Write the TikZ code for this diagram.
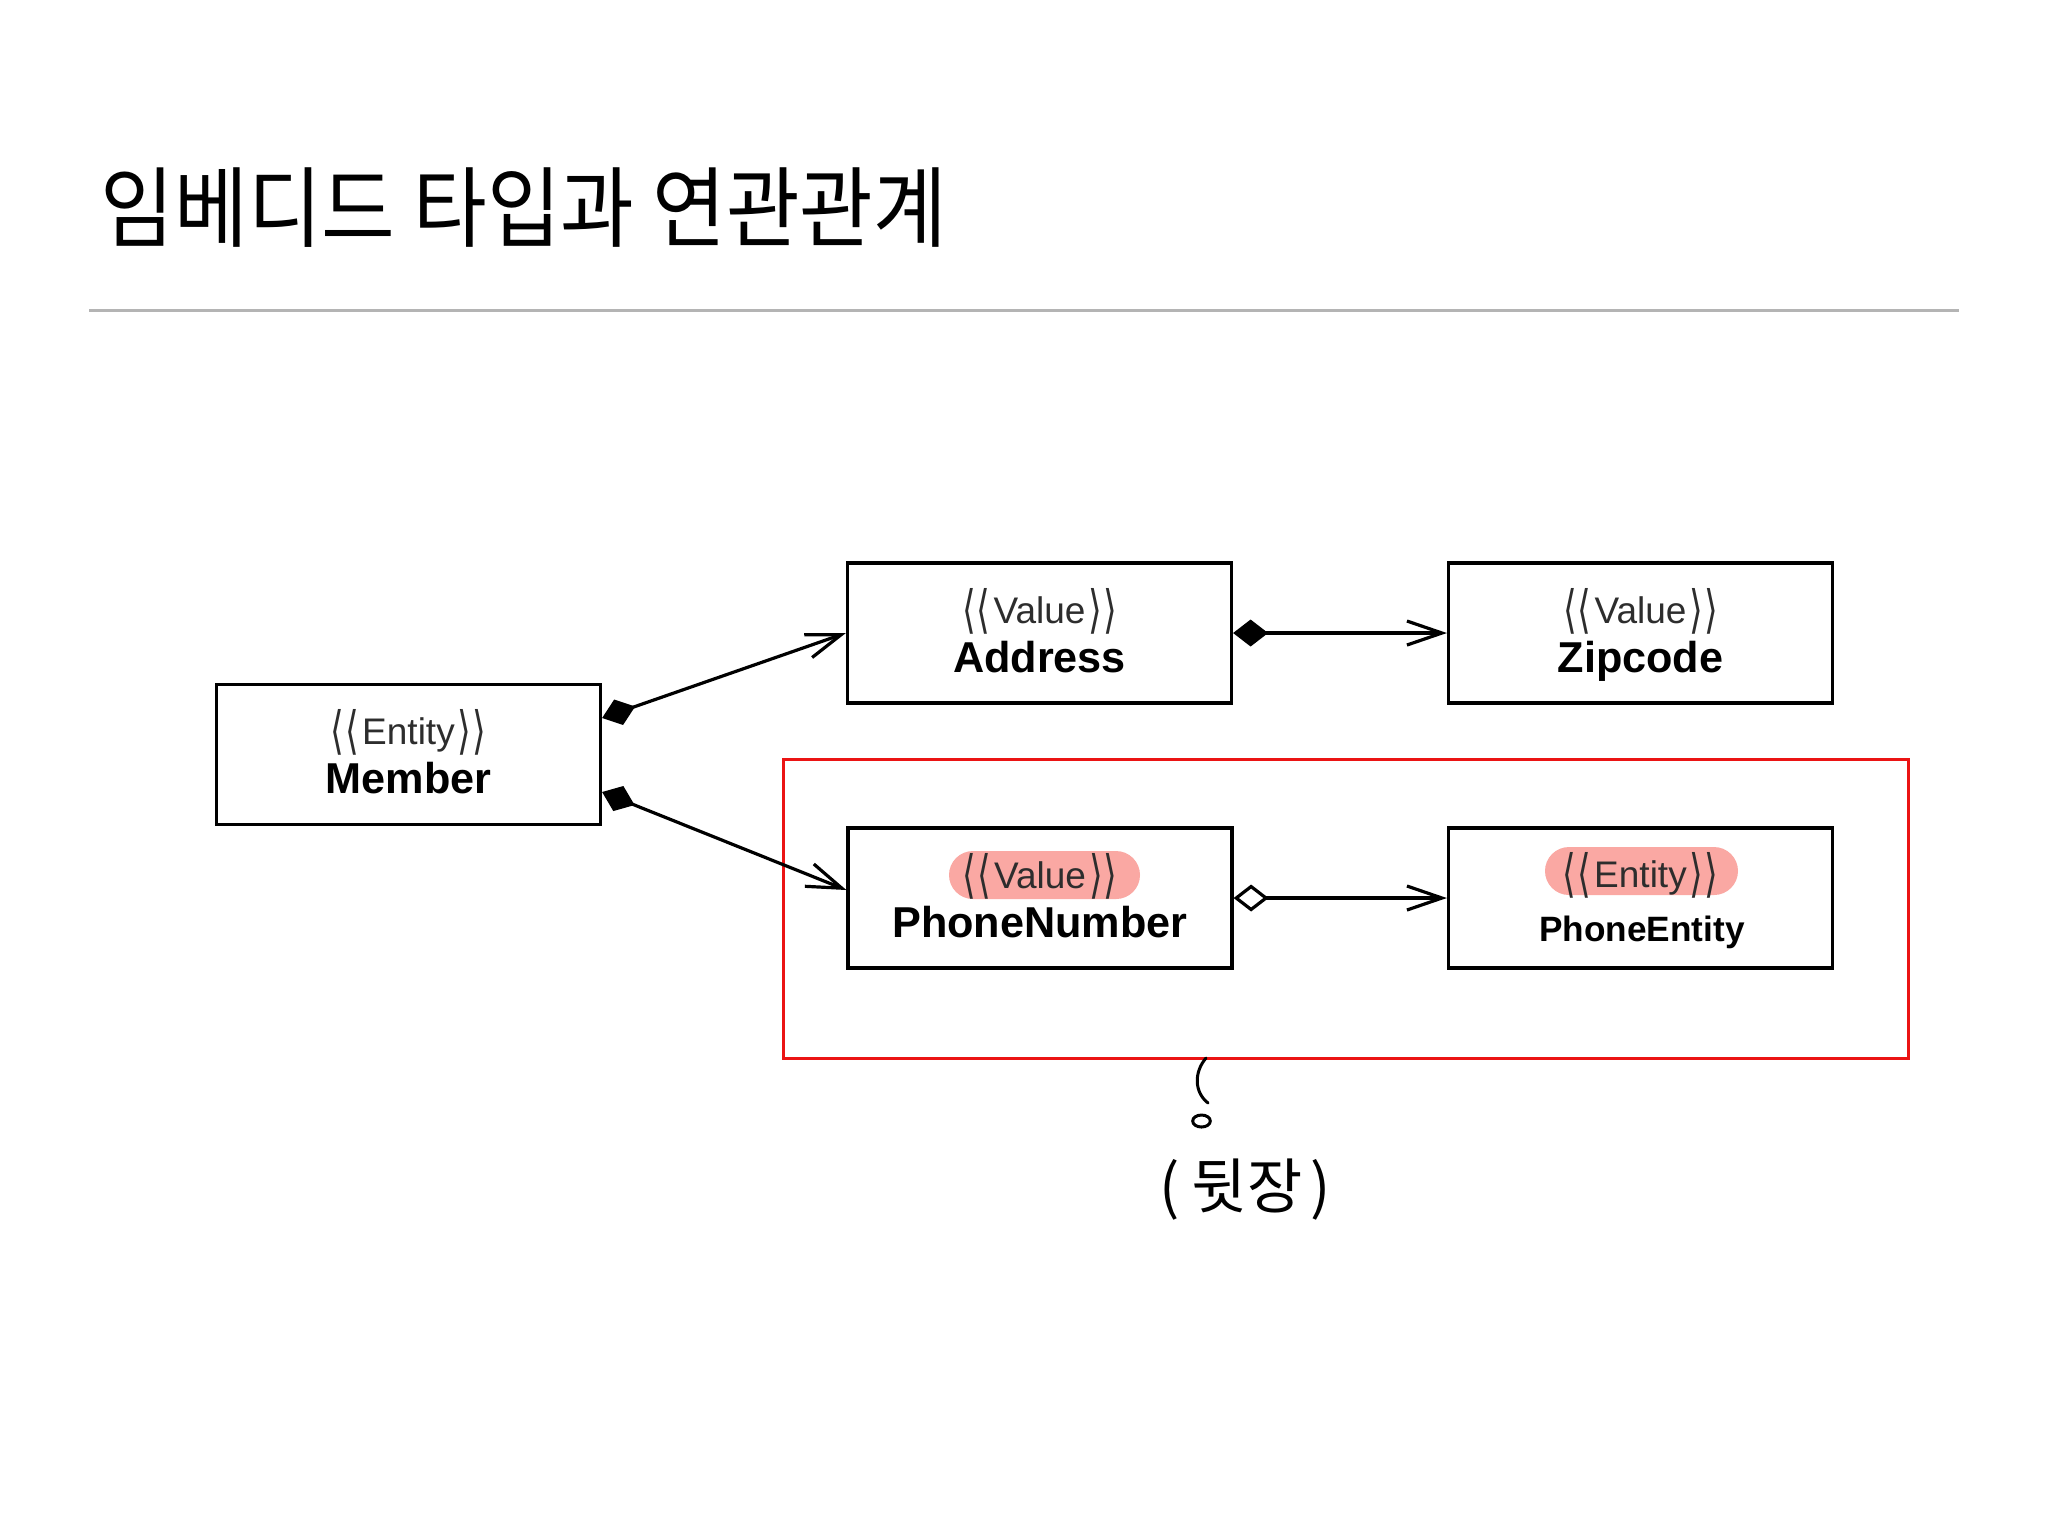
\documentclass[tikz,border=0pt]{standalone}
\usepackage{fontspec}
\setmainfont{Liberation Sans}
\newfontfamily\krfont{Noto Sans CJK KR}
\newfontfamily\dvfont{DejaVu Sans}
\usetikzlibrary{arrows.meta,calc}
\definecolor{hlpink}{RGB}{250,168,163}
\definecolor{rulegray}{RGB}{180,180,180}
\definecolor{redbox}{RGB}{235,20,20}
\definecolor{stgray}{RGB}{45,45,45}
\newcommand{\brkl}{\raisebox{-1pt}{\scalebox{0.95}[1.39]{\dvfont ⟨\kern0.2pt⟨}}}
\newcommand{\brkr}{\raisebox{-1pt}{\scalebox{0.95}[1.39]{\dvfont ⟩\kern0.2pt⟩}}}
\newcommand{\stpx}[1]{\brkl\kern0.8pt#1\kern0.8pt\brkr}
\tikzset{
  cls/.style={draw, line width=0.8pt, minimum width=96pt, minimum height=35pt, inner sep=0pt},
  stereo/.style={anchor=base, inner sep=0pt, text=stgray, font=\fontsize{9.25pt}{11pt}\selectfont},
  cname/.style={anchor=base, inner sep=0pt, font=\fontsize{10.8pt}{12pt}\selectfont\bfseries},
  cnamesmall/.style={anchor=base, inner sep=0pt, font=\fontsize{8.8pt}{10pt}\selectfont\bfseries},
  pill/.style={fill=hlpink, rounded corners=6pt, inner sep=0pt, minimum height=12pt},
  comp/.style={line width=0.8pt, {Diamond[length=8.75pt,width=6.75pt]}-{Straight Barb[length=8.75pt,width=6pt]}},
  aggr/.style={line width=0.8pt, {Diamond[open,length=8.75pt,width=6.75pt,fill=white]}-{Straight Barb[length=8.75pt,width=6pt]}},
}
\begin{document}
\begin{tikzpicture}[x=0.25pt,y=-0.25pt]
\useasboundingbox (0,0) rectangle (2048,1536);
\fill[white] (0,0) rectangle (2048,1536);

% title and rule
\node (title) [anchor=base west, inner sep=0pt, font=\krfont\fontsize{22pt}{26pt}\selectfont] at (100,240) {\scalebox{0.91}[1]{임베디드 타입과 연관관계}};
\draw[rulegray, line width=0.75pt] (89,310) -- (1959,310);

% red frame
\node (frame) [draw=redbox, line width=0.75pt, minimum width=281.25pt, minimum height=74.75pt, inner sep=0pt] at (1345.5,908.5) {};

% boxes
\node (member) [cls] at (408.5,754.5) {};
\node (address) [cls] at (1039.5,633) {};
\node (zipcode) [cls] at (1640.5,633) {};
\node (phonenum) [cls] at (1040,898) {};
\node (phoneent) [cls] at (1640.5,898) {};

% highlights
\node (pnpill) [pill, minimum width=47.75pt] at (1044.5,875) {};
\node (pepill) [pill, minimum width=48.25pt] at (1641.5,871) {};

% texts
\node (member-s) [stereo] at (408.5,744.5) {\stpx{Entity}};
\node (member-n) [cname] at (408.5,793.5) {Member};
\node (address-s) [stereo] at (1039.5,623) {\stpx{Value}};
\node (address-n) [cname] at (1039.5,672) {Address};
\node (zipcode-s) [stereo] at (1640.5,623) {\stpx{Value}};
\node (zipcode-n) [cname] at (1640.5,672) {Zipcode};
\node (phonenum-s) [stereo] at (1040,888) {\stpx{Value}};
\node (phonenum-n) [cname] at (1040,937) {PhoneNumber};
\node (phoneent-s) [stereo] at (1640.5,887) {\stpx{Entity}};
\node (phoneent-n) [cnamesmall] at (1642,941) {PhoneEntity};

% connectors
\draw[comp] ($(member.east)+(0,-36.5)$) -- (address.west);
\draw[comp] ($(member.east)+(0,37.5)$) -- ($(phonenum.west)+(0,-8)$);
\draw[comp] (address.east) -- (zipcode.west);
\draw[aggr] (phonenum.east) -- (phoneent.west);

% handwritten note
\coordinate (hookstart) at (1206,1058);
\coordinate (hookend) at (1208,1103);
\draw[line width=0.75pt, line cap=round] (hookstart) .. controls (1194,1072) and (1194,1092) .. (hookend);
\draw[line width=0.75pt] (1201.5,1121) ellipse [x radius=2.2pt, y radius=1.5pt];
\node (note) [inner sep=0pt, font=\krfont\fontsize{15pt}{18pt}\selectfont] at (1245,1190) {(\kern3pt 뒷장\kern2pt)};
\end{tikzpicture}
\end{document}
